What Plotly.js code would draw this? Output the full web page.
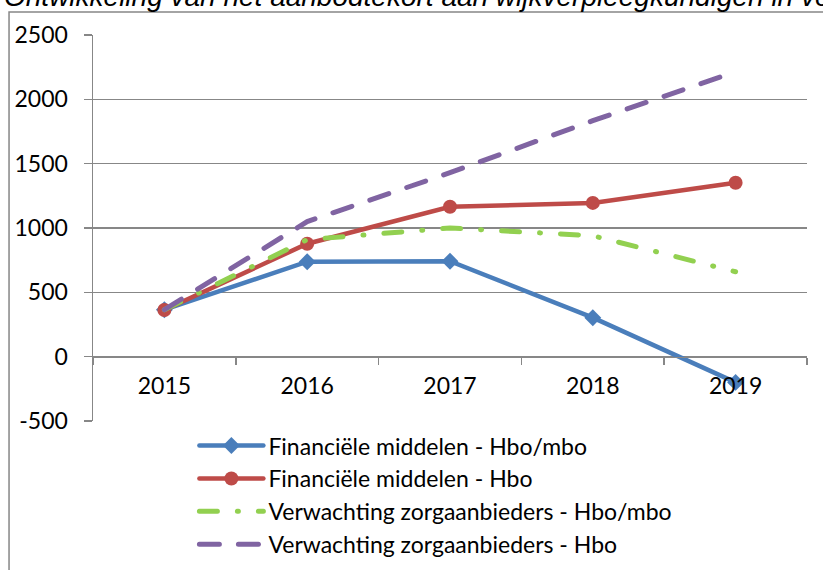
<!DOCTYPE html>
<html>
<head>
<meta charset="utf-8">
<script src="https://cdn.plot.ly/plotly-3.0.1.min.js"></script>
<style>
html,body{margin:0;padding:0;background:#fff;}
#chart{width:823px;height:570px;}
#chart .scatterlayer .js-line, #chart .legend .js-line{stroke-linecap:round;}
</style>
</head>
<body>
<div id="chart"></div>
<script>
const years = ['2015', '2016', '2017', '2018', '2019'];
const finHboMbo = [365, 738, 742, 303, -200];
const finHbo = [363, 878, 1165, 1195, 1352];
const verwHboMbo = [365, 910, 1000, 940, 660];
const verwHbo = [365, 1050, 1430, 1834, 2214];
const seriesNames = [
  'Financiële middelen - Hbo/mbo',
  'Financiële middelen - Hbo',
  'Verwachting zorgaanbieders - Hbo/mbo',
  'Verwachting zorgaanbieders - Hbo'
];
const yTicks = [-500, 0, 500, 1000, 1500, 2000, 2500];
const titleText = 'Ontwikkeling van het aanbodtekort aan wijkverpleegkundigen in verschillende scenario\'s';

const font = 'Lato, "Open Sans", sans-serif';
const gridColor = '#878787';

const traces = [
  {x: years, y: finHboMbo, name: seriesNames[0], type: 'scatter', mode: 'lines+markers',
   line: {color: '#4A7EBB', width: 4.5}, marker: {symbol: 'diamond', size: 13, color: '#4A7EBB'}},
  {x: years, y: finHbo, name: seriesNames[1], type: 'scatter', mode: 'lines+markers',
   line: {color: '#BE4B48', width: 4.5}, marker: {symbol: 'circle', size: 14, color: '#BE4B48'}},
  {x: years, y: verwHboMbo, name: seriesNames[2], type: 'scatter', mode: 'lines',
   line: {color: '#92D050', width: 5, dash: '18px,20px,1px,20px'}},
  {x: years, y: verwHbo, name: seriesNames[3], type: 'scatter', mode: 'lines',
   line: {color: '#8064A2', width: 5, dash: '20px,19px'}}
];

const layout = {
  width: 823, height: 570,
  margin: {l: 93, r: 16, t: 35, b: 149, pad: 0, autoexpand: false},
  paper_bgcolor: '#fff', plot_bgcolor: 'rgba(0,0,0,0)',
  font: {family: font, size: 23, color: '#000'},
  title: {text: titleText, x: 4 / 823, xref: 'container', xanchor: 'left',
          y: 1 - 6 / 570, yref: 'container', yanchor: 'bottom', automargin: false,
          font: {family: 'Liberation Sans, Arial, sans-serif', size: 28, style: 'italic', color: '#000'}},
  showlegend: true,
  legend: {orientation: 'v', x: 0.142, xanchor: 'left', y: -0.008, yanchor: 'top',
           font: {family: font, size: 23, color: '#000'}, itemwidth: 64,
           bgcolor: 'rgba(0,0,0,0)', traceorder: 'normal'},
  xaxis: {type: 'category', categoryorder: 'array', categoryarray: years,
          range: [-0.5, 4.5], anchor: 'free', position: 1/6, automargin: false,
          showline: true, linecolor: gridColor, linewidth: 1.5,
          ticks: 'outside', tickson: 'boundaries', ticklen: 7, tickwidth: 1.5, tickcolor: gridColor,
          showgrid: false, zeroline: false, ticklabelstandoff: 8,
          tickfont: {family: font, size: 23, color: '#000'}},
  yaxis: {range: [-500, 2500], tickvals: yTicks, ticktext: yTicks.map(String), automargin: false,
          showline: true, linecolor: gridColor, linewidth: 1.5,
          ticks: 'outside', ticklen: 8, tickwidth: 1.5, tickcolor: gridColor,
          showgrid: true, gridcolor: gridColor, gridwidth: 1.2, zeroline: false,
          ticklabelstandoff: 11,
          tickfont: {family: font, size: 23, color: '#000'}},
  shapes: [
    {type: 'rect', xref: 'paper', yref: 'paper', x0: -0.1176, x1: 1.2, y0: -0.6, y1: 1.0596,
     line: {color: '#878787', width: 1.5}, fillcolor: 'rgba(0,0,0,0)', layer: 'below'}
  ]
};

Plotly.newPlot('chart', traces, layout, {displayModeBar: false, staticPlot: true});
</script>
</body>
</html>
